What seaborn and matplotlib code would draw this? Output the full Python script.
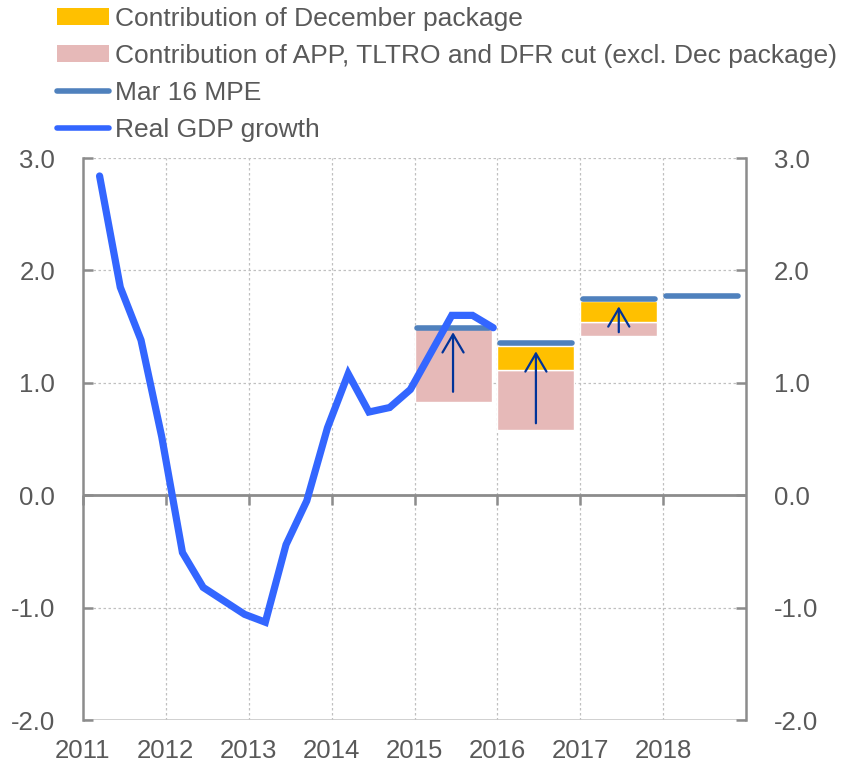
import matplotlib
matplotlib.use("Agg")
import matplotlib.pyplot as plt
import seaborn as sns
import numpy as np
import pandas as pd
from matplotlib.patches import Patch
from matplotlib.lines import Line2D

# ---- data ----
gdp_values = [2.84, 1.85, 1.38, 0.52, -0.51, -0.82, -0.94, -1.06, -1.13, -0.44,
              -0.05, 0.60, 1.08, 0.74, 0.78, 0.94, 1.27, 1.60, 1.60, 1.49]
gdp_start = 2011.2
gdp_step = 0.25

bar_years = [2015, 2016, 2017]
bar_base = [0.83, 0.58, 1.42]
app_contrib = [0.66, 0.53, 0.12]
dec_contrib = [0.00, 0.22, 0.19]

mpe_years = [2015, 2016, 2017, 2018]
mpe_values = [1.49, 1.35, 1.75, 1.77]

arrow_start = [0.92, 0.64, 1.45]
arrow_end = [1.45, 1.28, 1.68]

year_ticks = [2011, 2012, 2013, 2014, 2015, 2016, 2017, 2018]
y_ticks = [-2.0, -1.0, 0.0, 1.0, 2.0, 3.0]

labels = ["Contribution of December package",
          "Contribution of APP, TLTRO and DFR cut (excl. Dec package)",
          "Mar 16 MPE",
          "Real GDP growth"]

# ---- style ----
sns.set_theme(style="white")
plt.rcParams['font.family'] = ['Liberation Sans', 'DejaVu Sans']
TXT = "#595959"
GRID = "#c0c0c0"
SPINE = "#8c8c8c"
C_DEC = "#FFC000"
C_APP = "#E6B9B8"
C_MPE = "#4F81BD"
C_GDP = "#3366FF"
C_ARR = "#003399"

fig = plt.figure(figsize=(8.52, 7.64), dpi=100)
ax = fig.add_axes([83/852, 1-720/764, (746-83)/852, (720-158)/764])

gdp_df = pd.DataFrame({"x": [gdp_start + gdp_step*i for i in range(len(gdp_values))],
                       "y": gdp_values})

bar_w = 0.93
ax.bar(bar_years, app_contrib, bottom=bar_base, width=bar_w, align='edge',
       color=C_APP, zorder=2)
ax.bar(bar_years, dec_contrib, bottom=np.array(bar_base)+np.array(app_contrib),
       width=bar_w, align='edge', color=C_DEC, zorder=2)

for yr, v in zip(mpe_years, mpe_values):
    ax.plot([yr+0.03, yr+0.90], [v, v], color=C_MPE, lw=4, solid_capstyle='round', zorder=3)

for yr, s, e in zip(bar_years, arrow_start, arrow_end):
    ax.annotate("", xy=(yr+bar_w/2, e), xytext=(yr+bar_w/2, s),
                arrowprops=dict(arrowstyle='->,head_length=0.65,head_width=0.38',
                                mutation_scale=20,
                                color=C_ARR, lw=1.6, shrinkA=0, shrinkB=0), zorder=4)

sns.lineplot(data=gdp_df, x="x", y="y", ax=ax, color=C_GDP, lw=5.2,
             solid_joinstyle='miter', zorder=5, legend=False)

ax.set_xlim(2011, 2019)
ax.set_ylim(-2, 3)
ax.set_xlabel("")
ax.set_ylabel("")

ax.set_xticks(year_ticks)
ax.set_xticklabels([str(y) for y in year_ticks])
ax.set_yticks(y_ticks)
ax.set_yticklabels([f"{v:.1f}" for v in y_ticks])

# gridlines
for yr in year_ticks[1:]:
    ax.axvline(yr, color=GRID, lw=0.9, ls=(0, (2, 2)), zorder=0)
for v in y_ticks[1:]:
    ax.axhline(v, color=GRID, lw=0.9, ls=(0, (2, 2)), zorder=0)
ax.axhline(-2, color="#c8c8c8", lw=1.2, zorder=0)
ax.axhline(0, color=SPINE, lw=2, zorder=1)

for s in ["top", "bottom"]:
    ax.spines[s].set_visible(False)
for s in ["left", "right"]:
    ax.spines[s].set_color(SPINE)
    ax.spines[s].set_linewidth(1.8)

ax.tick_params(axis='y', which='both', left=True, right=True, labelleft=True,
               labelright=True, direction='in', length=7, width=1.8, color=SPINE,
               labelsize=18.5, labelcolor=TXT, pad=20)
ax.tick_params(axis='x', bottom=False, labelsize=18.5, labelcolor=TXT, pad=8)

# tick marks on the zero line
sec = ax.secondary_xaxis((0 - (-2)) / (3 - (-2)))
sec.set_xticks(year_ticks)
sec.set_xticklabels([])
sec.spines['bottom'].set_visible(False)
sec.tick_params(axis='x', direction='out', length=7, width=1.8, color=SPINE)

handles = [Patch(facecolor=C_DEC, edgecolor='none'),
           Patch(facecolor=C_APP, edgecolor='none'),
           Line2D([], [], color=C_MPE, lw=4, solid_capstyle='round'),
           Line2D([], [], color=C_GDP, lw=4, solid_capstyle='round')]
fig.legend(handles, labels, loc='upper left', bbox_to_anchor=(54/852, 1 - 4/764),
           frameon=False, fontsize=19, labelcolor=TXT, handlelength=2.0,
           handleheight=0.6, handletextpad=0.2, labelspacing=0.5,
           borderaxespad=0.0, borderpad=0.1)

fig.savefig("out.png", dpi=100)
